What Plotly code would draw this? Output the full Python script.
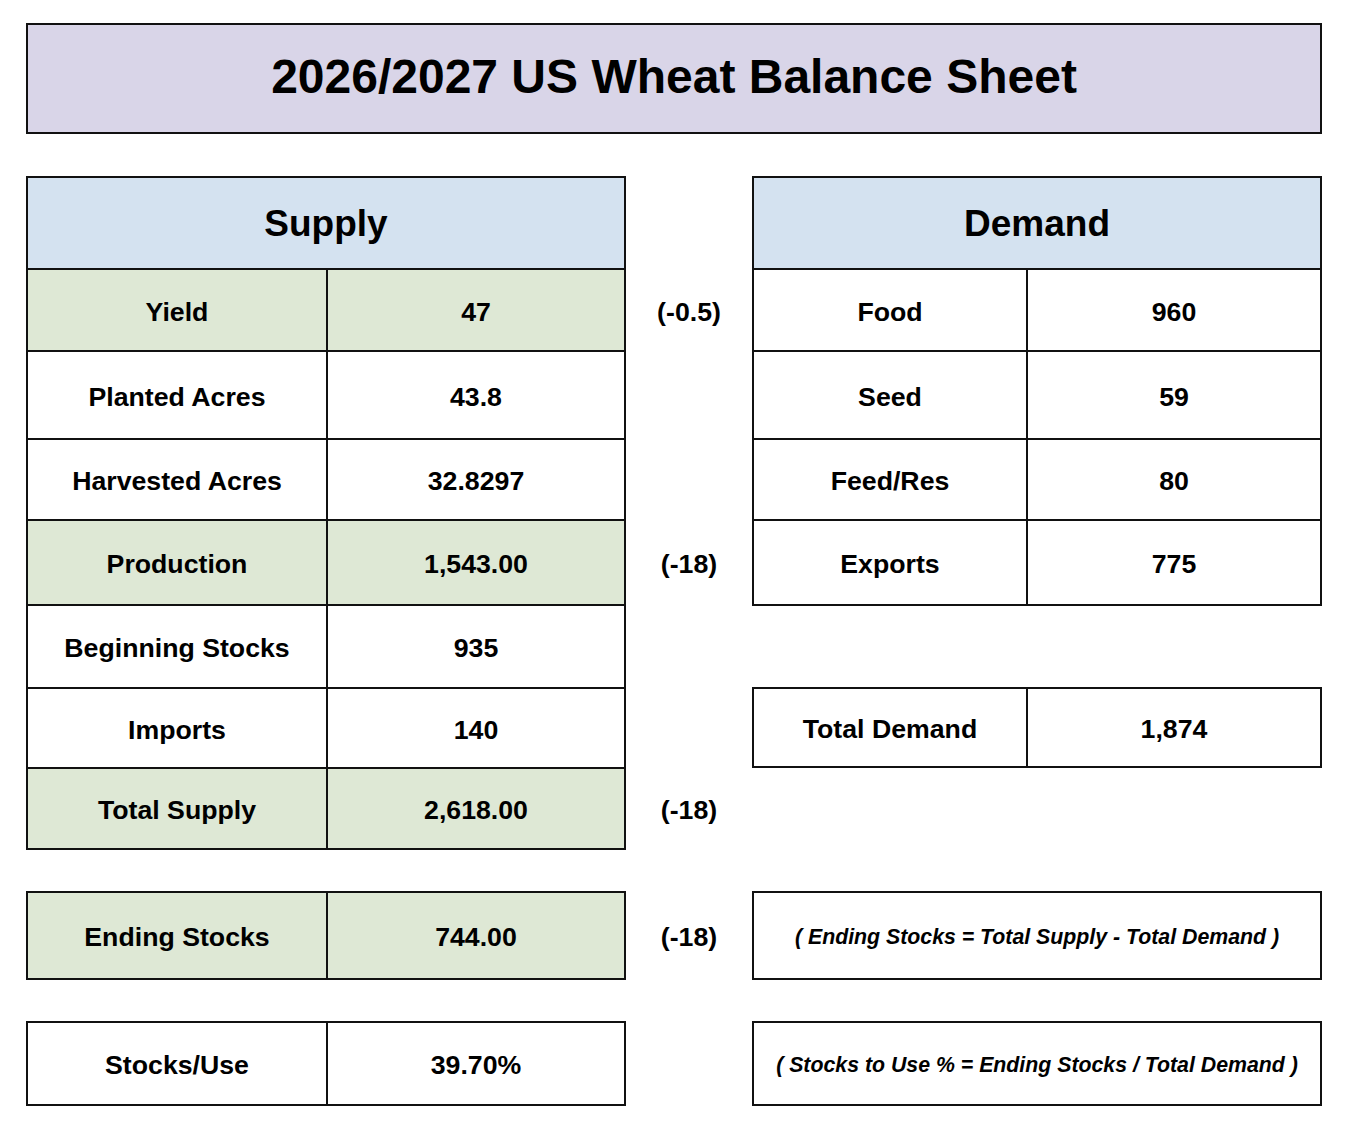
import plotly.graph_objects as go

# ---------------- data ----------------
title_text = "2026/2027 US Wheat Balance Sheet"
supply_header = "Supply"
demand_header = "Demand"

supply_items = ["Yield", "Planted Acres", "Harvested Acres", "Production",
                "Beginning Stocks", "Imports", "Total Supply"]
supply_values = ["47", "43.8", "32.8297", "1,543.00", "935", "140", "2,618.00"]
supply_highlight = [True, False, False, True, False, False, True]
supply_changes = ["(-0.5)", "", "", "(-18)", "", "", "(-18)"]

demand_items = ["Food", "Seed", "Feed/Res", "Exports"]
demand_values = ["960", "59", "80", "775"]

total_demand_label = "Total Demand"
total_demand_value = "1,874"

ending_label = "Ending Stocks"
ending_value = "744.00"
ending_change = "(-18)"

stu_label = "Stocks/Use"
stu_value = "39.70%"

formula_ending = "( Ending Stocks = Total Supply - Total Demand )"
formula_stu = "( Stocks to Use % = Ending Stocks / Total Demand )"

# ---------------- style / geometry ----------------
W, H = 1362, 1137
PAD = 8  # browser body margin
FONT = "Liberation Sans, Arial, Helvetica, sans-serif"
C_TITLE = "#d9d5e8"
C_HEAD = "#d4e2f0"
C_GREEN = "#dee8d5"
C_WHITE = "#ffffff"
LINE = dict(color="#111111", width=2)

SX0, SX1, SX2 = 27, 327, 625          # supply columns
DX0, DX1, DX2 = 753, 1027, 1321       # demand columns
CHG_X = 689
HEAD_Y0, HEAD_Y1 = 177, 269
supply_edges = [269, 351, 439, 520, 605, 688, 768, 849]
demand_edges = supply_edges[:5]
TOTDEM_Y = (688, 767)
END_Y = (892, 979)
STU_Y = (1022, 1105)
DY = 4  # small vertical nudge for text

shapes = []
def rect(x0, y0, x1, y1, fill):
    shapes.append(dict(type="rect", xref="x", yref="y", x0=x0, y0=y0, x1=x1, y1=y1,
                       fillcolor=fill, line=LINE, layer="below"))

tx, ty, tt, ts = [], [], [], []
def text(x, y, s, size):
    tx.append(x); ty.append(y + DY); tt.append(s); ts.append(size)

# title
rect(27, 24, 1321, 133, C_TITLE)
text(674, 77, title_text, 48)

# headers
HS = 37
rect(SX0, HEAD_Y0, SX2, HEAD_Y1, C_HEAD)
text((SX0 + SX2) / 2, (HEAD_Y0 + HEAD_Y1) / 2, supply_header, HS)
rect(DX0, HEAD_Y0, DX2, HEAD_Y1, C_HEAD)
text((DX0 + DX2) / 2, (HEAD_Y0 + HEAD_Y1) / 2, demand_header, HS)

CELL = 26.7
# supply rows
for i, (lab, val, hi, chg) in enumerate(zip(supply_items, supply_values,
                                             supply_highlight, supply_changes)):
    y0, y1 = supply_edges[i], supply_edges[i + 1]
    fill = C_GREEN if hi else C_WHITE
    rect(SX0, y0, SX1, y1, fill)
    rect(SX1, y0, SX2, y1, fill)
    yc = (y0 + y1) / 2
    text((SX0 + SX1) / 2, yc, lab, CELL)
    text((SX1 + SX2) / 2, yc, val, CELL)
    if chg:
        text(CHG_X, yc, chg, CELL)

# demand rows
for i, (lab, val) in enumerate(zip(demand_items, demand_values)):
    y0, y1 = demand_edges[i], demand_edges[i + 1]
    rect(DX0, y0, DX1, y1, C_WHITE)
    rect(DX1, y0, DX2, y1, C_WHITE)
    yc = (y0 + y1) / 2
    text((DX0 + DX1) / 2, yc, lab, CELL)
    text((DX1 + DX2) / 2, yc, val, CELL)

# total demand
rect(DX0, TOTDEM_Y[0], DX1, TOTDEM_Y[1], C_WHITE)
rect(DX1, TOTDEM_Y[0], DX2, TOTDEM_Y[1], C_WHITE)
yc = sum(TOTDEM_Y) / 2
text((DX0 + DX1) / 2, yc, total_demand_label, CELL)
text((DX1 + DX2) / 2, yc, total_demand_value, CELL)

# ending stocks
rect(SX0, END_Y[0], SX1, END_Y[1], C_GREEN)
rect(SX1, END_Y[0], SX2, END_Y[1], C_GREEN)
yc = sum(END_Y) / 2
text((SX0 + SX1) / 2, yc, ending_label, CELL)
text((SX1 + SX2) / 2, yc, ending_value, CELL)
text(CHG_X, yc, ending_change, CELL)

# stocks/use
rect(SX0, STU_Y[0], SX1, STU_Y[1], C_WHITE)
rect(SX1, STU_Y[0], SX2, STU_Y[1], C_WHITE)
yc = sum(STU_Y) / 2
text((SX0 + SX1) / 2, yc, stu_label, CELL)
text((SX1 + SX2) / 2, yc, stu_value, CELL)

# formula boxes
rect(DX0, END_Y[0], DX2, END_Y[1], C_WHITE)
rect(DX0, STU_Y[0], DX2, STU_Y[1], C_WHITE)

fig = go.Figure()
fig.add_trace(go.Scatter(
    x=tx, y=ty, text=["<b>%s</b>" % s for s in tt], mode="text",
    textposition="middle center",
    textfont=dict(family=FONT, size=ts, color="#000000"),
    hoverinfo="skip", showlegend=False))
fig.add_trace(go.Scatter(
    x=[(DX0 + DX2) / 2, (DX0 + DX2) / 2],
    y=[sum(END_Y) / 2 + DY - 1, sum(STU_Y) / 2 + DY - 1],
    text=["<b><i>%s</i></b>" % formula_ending, "<b><i>%s</i></b>" % formula_stu],
    mode="text", textposition="middle center",
    textfont=dict(family=FONT, size=21.3, color="#000000"),
    hoverinfo="skip", showlegend=False))

fig.update_layout(
    width=W - 2 * PAD, height=H - 2 * PAD, margin=dict(l=0, r=0, t=0, b=0),
    paper_bgcolor="#ffffff", plot_bgcolor="#ffffff",
    shapes=shapes,
    xaxis=dict(range=[PAD, W - PAD], visible=False, fixedrange=True),
    yaxis=dict(range=[H - PAD, PAD], visible=False, fixedrange=True),
)
fig.write_html("out.html")
